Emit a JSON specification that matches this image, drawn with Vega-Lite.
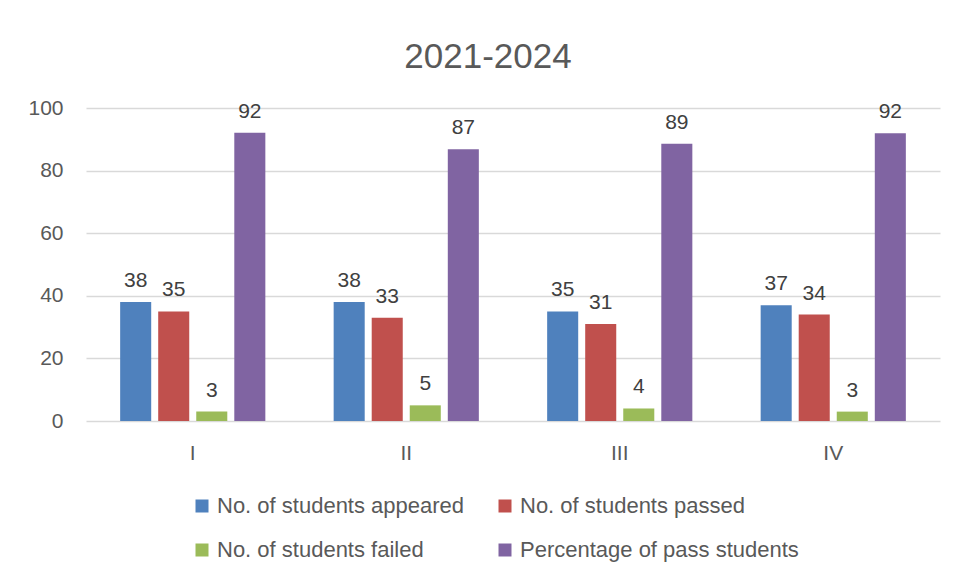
{
  "$schema": "https://vega.github.io/schema/vega-lite/v6.json",
  "width": 854,
  "height": 313,
  "autosize": {"type": "none"},
  "padding": {"left": 86, "top": 108, "right": 16, "bottom": 156},
  "background": "white",
  "title": {
    "text": "2021-2024",
    "fontSize": 35,
    "font": "Liberation Sans",
    "fontWeight": "normal",
    "color": "#595959",
    "frame": "group",
    "anchor": "middle",
    "dx": -25,
    "offset": 22
  },
  "config": {
    "font": "Liberation Sans",
    "view": {"stroke": null}
  },
  "data": {
    "values": [
      {"year": "I", "series": "No. of students appeared", "value": 38},
      {"year": "I", "series": "No. of students passed", "value": 35},
      {"year": "I", "series": "No. of students failed", "value": 3},
      {"year": "I", "series": "Percentage of pass students", "value": 92.1},
      {"year": "II", "series": "No. of students appeared", "value": 38},
      {"year": "II", "series": "No. of students passed", "value": 33},
      {"year": "II", "series": "No. of students failed", "value": 5},
      {"year": "II", "series": "Percentage of pass students", "value": 86.8},
      {"year": "III", "series": "No. of students appeared", "value": 35},
      {"year": "III", "series": "No. of students passed", "value": 31},
      {"year": "III", "series": "No. of students failed", "value": 4},
      {"year": "III", "series": "Percentage of pass students", "value": 88.6},
      {"year": "IV", "series": "No. of students appeared", "value": 37},
      {"year": "IV", "series": "No. of students passed", "value": 34},
      {"year": "IV", "series": "No. of students failed", "value": 3},
      {"year": "IV", "series": "Percentage of pass students", "value": 91.9}
    ]
  },
  "encoding": {
    "x": {
      "field": "year",
      "type": "nominal",
      "sort": ["I", "II", "III", "IV"],
      "scale": {"paddingInner": 0.32, "paddingOuter": 0.16},
      "axis": {
        "title": null,
        "labelAngle": 0,
        "domain": false,
        "ticks": false,
        "labelFontSize": 21,
        "labelColor": "#595959",
        "labelPadding": 21
      }
    },
    "xOffset": {
      "field": "series",
      "type": "nominal",
      "sort": ["No. of students appeared", "No. of students passed", "No. of students failed", "Percentage of pass students"],
      "scale": {"paddingInner": 0.184, "paddingOuter": 0}
    },
    "y": {
      "field": "value",
      "type": "quantitative",
      "scale": {"domain": [0, 100], "nice": false},
      "axis": {
        "title": null,
        "values": [0, 20, 40, 60, 80, 100],
        "domain": false,
        "ticks": false,
        "labelFontSize": 21,
        "labelColor": "#595959",
        "labelPadding": 23,
        "gridColor": "#d9d9d9",
        "gridWidth": 1.5
      }
    }
  },
  "layer": [
    {
      "mark": {"type": "bar"},
      "encoding": {
        "color": {
          "field": "series",
          "type": "nominal",
          "scale": {
            "domain": ["No. of students appeared", "No. of students passed", "No. of students failed", "Percentage of pass students"],
            "range": ["#4F81BD", "#C0504D", "#9BBB59", "#8064A2"]
          },
          "legend": {
            "title": null,
            "orient": "none",
            "legendX": 105,
            "legendY": 387,
            "columns": 2,
            "direction": "horizontal",
            "symbolType": "square",
            "symbolSize": 169,
            "symbolStrokeWidth": 0,
            "labelFontSize": 22,
            "labelColor": "#595959",
            "labelOffset": 4,
            "labelLimit": 400,
            "columnPadding": 29,
            "rowPadding": 22
          }
        }
      }
    },
    {
      "mark": {"type": "text", "baseline": "alphabetic", "dy": -15, "fontSize": 21, "color": "#404040"},
      "encoding": {
        "text": {"field": "value", "type": "quantitative", "format": ".0f"}
      }
    }
  ]
}
